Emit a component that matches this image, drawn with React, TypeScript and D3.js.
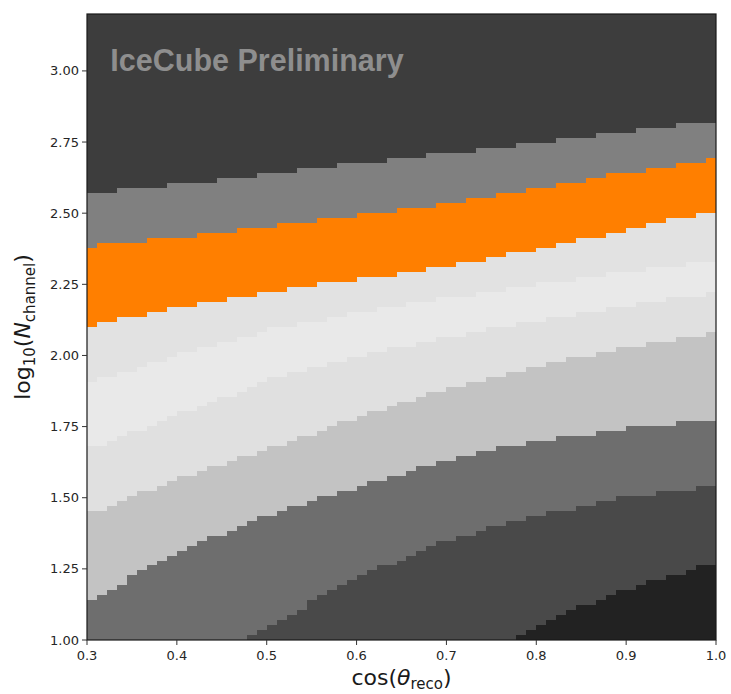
import React from 'react';
import * as d3 from 'd3';

// x positions (cos θ_reco) where the band boundaries were read
const xKnots = [0.3, 0.4, 0.5, 0.6, 0.7, 0.8, 0.9, 1.0];
// band boundaries in log10(N_channel), top to bottom
const bound1 = [2.572, 2.600, 2.635, 2.674, 2.709, 2.747, 2.786, 2.821];
const bound2 = [2.386, 2.414, 2.453, 2.493, 2.533, 2.586, 2.642, 2.688];
const bound3 = [2.102, 2.168, 2.221, 2.267, 2.309, 2.372, 2.442, 2.512];
const bound4 = [1.902, 2.000, 2.088, 2.147, 2.200, 2.246, 2.291, 2.333];
const bound5 = [1.667, 1.789, 1.912, 2.000, 2.063, 2.123, 2.175, 2.221];
const bound6 = [1.439, 1.565, 1.667, 1.779, 1.884, 1.965, 2.025, 2.077];
const bound7 = [1.130, 1.309, 1.439, 1.537, 1.632, 1.698, 1.740, 1.779];
const bound8 = [0.650, 0.840, 1.045, 1.218, 1.351, 1.435, 1.502, 1.544];
const bound9 = [0.150, 0.300, 0.450, 0.600, 0.788, 1.053, 1.175, 1.270];

// colours of the bands, top to bottom
const bandColors = [
  '#3d3d3d', '#808080', '#ff7f00', '#e2e2e2', '#e9e9e9',
  '#e0e0e0', '#c3c3c3', '#6e6e6e', '#494949', '#222222',
];

const xTicks = [0.3, 0.4, 0.5, 0.6, 0.7, 0.8, 0.9, 1.0];
const yTicks = [1.0, 1.25, 1.5, 1.75, 2.0, 2.25, 2.5, 2.75, 3.0];

const X_DOMAIN: [number, number] = [0.3, 1.0];
const Y_DOMAIN: [number, number] = [1.0, 3.2];
const NX = 63;
const NY = 126;

export default function App() {
  const W = 731, H = 694;
  const left = 87, right = 716, top = 14, bottom = 640;
  const x = d3.scaleLinear().domain(X_DOMAIN).range([left, right]);
  const y = d3.scaleLinear().domain(Y_DOMAIN).range([bottom, top]);

  const bounds = [bound1, bound2, bound3, bound4, bound5, bound6, bound7, bound8, bound9];
  const interps = bounds.map(b => d3.scaleLinear().domain(xKnots).range(b));

  const dx = (X_DOMAIN[1] - X_DOMAIN[0]) / NX;
  const dy = (Y_DOMAIN[1] - Y_DOMAIN[0]) / NY;

  const cells: { x0: number; x1: number; y0: number; y1: number; level: number }[] = [];
  for (let i = 0; i < NX; i++) {
    const xa = X_DOMAIN[0] + i * dx;
    const xb = xa + dx;
    const xc = xa + dx / 2;
    const bv = interps.map(f => f(xc));
    let runStart = 0;
    let runLevel = -1;
    for (let j = 0; j <= NY; j++) {
      let level = -2;
      if (j < NY) {
        const yc = Y_DOMAIN[0] + (j + 0.5) * dy;
        level = bv.filter(v => v > yc).length;
      }
      if (level !== runLevel) {
        if (runLevel >= 0) {
          cells.push({ x0: xa, x1: xb, y0: Y_DOMAIN[0] + runStart * dy, y1: Y_DOMAIN[0] + j * dy, level: runLevel });
        }
        runStart = j;
        runLevel = level;
      }
    }
  }

  const tickColor = '#333333';
  const font = 'DejaVu Sans, sans-serif';

  return (
    <svg width={W} height={H} style={{ position: 'absolute', left: 0, top: 0, background: '#fff' }}>
      <g shapeRendering="crispEdges">
        {cells.map((c, k) => {
          const px0 = Math.round(x(c.x0));
          const px1 = Math.round(x(c.x1));
          const py0 = Math.round(y(c.y1));
          const py1 = Math.round(y(c.y0));
          return (
            <rect key={k} x={px0} y={py0} width={px1 - px0} height={py1 - py0} fill={bandColors[c.level]} />
          );
        })}
      </g>
      <text x={x(0.326)} y={y(3.0) + 0.5} fontFamily="Liberation Sans, Arial, sans-serif" fontWeight="bold"
        fontSize={30.5} fill="#8e8e8e">IceCube Preliminary</text>
      <rect x={left} y={top} width={right - left} height={bottom - top} fill="none" stroke="#1a1a1a" strokeWidth={1.2} />
      {yTicks.map(t => (
        <g key={'y' + t}>
          <line x1={left - 5} x2={left} y1={y(t)} y2={y(t)} stroke={tickColor} strokeWidth={1} />
          <text x={left - 8} y={y(t)} dy="0.35em" textAnchor="end" fontFamily={font} fontSize={13} fill="#262626">
            {t.toFixed(2)}
          </text>
        </g>
      ))}
      {xTicks.map(t => (
        <g key={'x' + t}>
          <line x1={x(t)} x2={x(t)} y1={bottom} y2={bottom + 5} stroke={tickColor} strokeWidth={1} />
          <text x={x(t)} y={bottom + 20} textAnchor="middle" fontFamily={font} fontSize={13} fill="#262626">
            {t.toFixed(1)}
          </text>
        </g>
      ))}
      <text x={(left + right) / 2} y={685} textAnchor="middle" fontFamily={font} fontSize={22} fill="#1a1a1a">
        cos(<tspan fontStyle="italic">θ</tspan><tspan fontSize={15} dy={4}>reco</tspan><tspan dy={-4}>)</tspan>
      </text>
      <text transform={`translate(30,${(top + bottom) / 2}) rotate(-90)`} textAnchor="middle" fontFamily={font}
        fontSize={22} fill="#1a1a1a">
        log<tspan fontSize={15} dy={5}>10</tspan><tspan dy={-5}>(</tspan><tspan fontStyle="italic">N</tspan>
        <tspan fontSize={15} dy={5}>channel</tspan><tspan dy={-5}>)</tspan>
      </text>
    </svg>
  );
}
